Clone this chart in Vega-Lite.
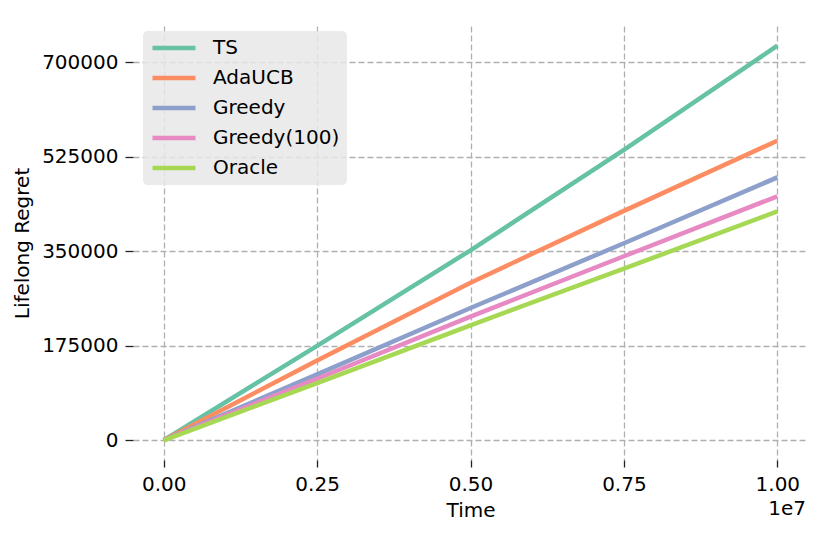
{
  "$schema": "https://vega.github.io/schema/vega-lite/v6.json",
  "autosize": "none",
  "width": 675,
  "height": 434,
  "padding": {"left": 133, "top": 26, "right": 22, "bottom": 76},
  "background": "white",
  "view": {"stroke": null},
  "config": {
    "font": "DejaVu Sans",
    "axis": {
      "domain": false,
      "grid": true,
      "gridColor": "#b0b0b0",
      "gridDash": [6, 3],
      "gridWidth": 1.3,
      "tickColor": "#222222",
      "tickWidth": 1.3,
      "tickSize": 7,
      "labelFont": "DejaVu Sans",
      "labelFontSize": 20,
      "labelColor": "#000000",
      "titleFont": "DejaVu Sans",
      "titleFontSize": 20,
      "titleFontWeight": "normal",
      "titleColor": "#000000"
    }
  },
  "data": {
    "values": [
      {"t": 0, "alg": "TS", "regret": 0},
      {"t": 2500000, "alg": "TS", "regret": 175000},
      {"t": 5000000, "alg": "TS", "regret": 352000},
      {"t": 7500000, "alg": "TS", "regret": 538000},
      {"t": 10000000, "alg": "TS", "regret": 731000},
      {"t": 0, "alg": "AdaUCB", "regret": 0},
      {"t": 2500000, "alg": "AdaUCB", "regret": 148000},
      {"t": 5000000, "alg": "AdaUCB", "regret": 292000},
      {"t": 7500000, "alg": "AdaUCB", "regret": 425000},
      {"t": 10000000, "alg": "AdaUCB", "regret": 555000},
      {"t": 0, "alg": "Greedy", "regret": 0, "lo": 0, "hi": 0},
      {"t": 2500000, "alg": "Greedy", "regret": 122000, "lo": 120500, "hi": 123500},
      {"t": 5000000, "alg": "Greedy", "regret": 245000, "lo": 242500, "hi": 247500},
      {"t": 7500000, "alg": "Greedy", "regret": 365000, "lo": 361500, "hi": 368500},
      {"t": 10000000, "alg": "Greedy", "regret": 487000, "lo": 482000, "hi": 492000},
      {"t": 0, "alg": "Greedy(100)", "regret": 0},
      {"t": 2500000, "alg": "Greedy(100)", "regret": 114000},
      {"t": 5000000, "alg": "Greedy(100)", "regret": 229000},
      {"t": 7500000, "alg": "Greedy(100)", "regret": 341000},
      {"t": 10000000, "alg": "Greedy(100)", "regret": 452000},
      {"t": 0, "alg": "Oracle", "regret": 0},
      {"t": 2500000, "alg": "Oracle", "regret": 106000},
      {"t": 5000000, "alg": "Oracle", "regret": 213000},
      {"t": 7500000, "alg": "Oracle", "regret": 318000},
      {"t": 10000000, "alg": "Oracle", "regret": 424000}
    ]
  },
  "encoding": {
    "x": {
      "field": "t",
      "type": "quantitative",
      "title": "Time",
      "scale": {"domain": [-500000, 10500000], "nice": false, "zero": false},
      "axis": {
        "values": [0, 2500000, 5000000, 7500000, 10000000],
        "labelExpr": "format(datum.value / 10000000, '.2f')",
        "labelPadding": 7,
        "titlePadding": 6
      }
    },
    "y": {
      "field": "regret",
      "type": "quantitative",
      "title": "Lifelong Regret",
      "scale": {"domain": [-36550, 767550], "nice": false, "zero": false},
      "axis": {
        "values": [0, 175000, 350000, 525000, 700000],
        "format": "d",
        "tickSize": 8,
        "labelPadding": 7,
        "titlePadding": 9
      }
    }
  },
  "layer": [
    {
      "transform": [{"filter": "datum.alg === 'Greedy'"}],
      "mark": {"type": "area", "color": "#8da0cb", "opacity": 0.35},
      "encoding": {
        "y": {"field": "lo", "type": "quantitative"},
        "y2": {"field": "hi"}
      }
    },
    {
      "mark": {"type": "line", "strokeWidth": 4.5},
      "encoding": {
        "color": {
          "field": "alg",
          "type": "nominal",
          "scale": {
            "domain": ["TS", "AdaUCB", "Greedy", "Greedy(100)", "Oracle"],
            "range": ["#66c2a5", "#fc8d62", "#8da0cb", "#e78ac3", "#a6d854"]
          },
          "legend": {
            "title": null,
            "orient": "none",
            "legendX": 10,
            "legendY": 5,
            "symbolType": "stroke",
            "symbolSize": 1849,
            "symbolStrokeWidth": 4.5,
            "clipHeight": 20,
            "rowPadding": 10,
            "labelFont": "DejaVu Sans",
            "labelFontSize": 20,
            "labelColor": "#000000",
            "labelOffset": 15,
            "padding": 7,
            "fillColor": "rgba(232,232,232,0.85)",
            "strokeColor": null,
            "cornerRadius": 5
          }
        },
        "order": {"field": "t"}
      }
    },
    {
      "transform": [{"filter": "datum.alg === 'TS' && datum.t === 10000000"}],
      "mark": {"type": "text", "text": "1e7", "align": "right", "baseline": "middle", "fontSize": 20, "font": "DejaVu Sans", "color": "#000000", "dy": 49, "dx": -2},
      "encoding": {
        "x": {"datum": 10500000},
        "y": {"datum": -36550}
      }
    }
  ]
}
